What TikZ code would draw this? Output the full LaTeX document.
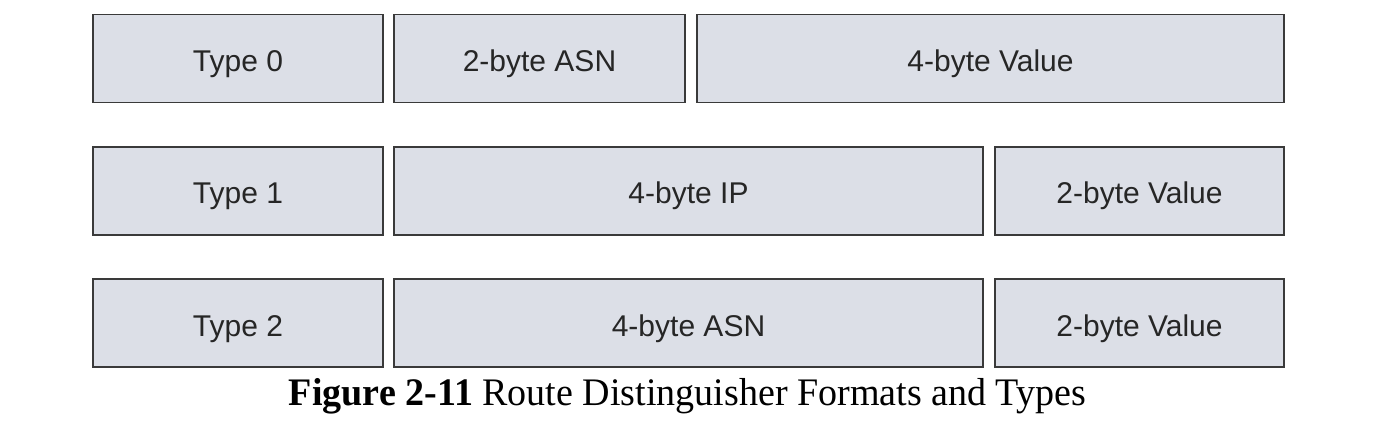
\documentclass[tikz,border=0pt]{standalone}
\usepackage{fontspec}
\setmainfont{Liberation Serif}
\newfontfamily\boxfont{Liberation Sans}
\definecolor{boxfill}{HTML}{DCDFE7}
\definecolor{boxline}{HTML}{3A3A3A}
\begin{document}
\begin{tikzpicture}[x=1pt,y=-1pt,
  field/.style={draw=boxline, fill=boxfill, line width=1.4pt, inner sep=0pt,
    minimum height=88pt, text height=26pt, text depth=0pt,
    font=\boxfont\fontsize{30}{34}\selectfont, text=black!85}]
\useasboundingbox (0,0) rectangle (1383,422);
% row 1
\node[field, minimum width=290pt] (t0) at (238,58.5) {Type 0};
\node[field, minimum width=291pt] (a0) at (539.5,58.5) {2-byte ASN};
\node[field, minimum width=587pt] (v0) at (990.5,58.5) {4-byte Value};
% row 2
\node[field, minimum width=290pt] (t1) at (238,191) {Type 1};
\node[field, minimum width=589pt] (a1) at (688.5,191) {4-byte IP};
\node[field, minimum width=289pt] (v1) at (1139.5,191) {2-byte Value};
% row 3
\node[field, minimum width=290pt] (t2) at (238,323) {Type 2};
\node[field, minimum width=589pt] (a2) at (688.5,323) {4-byte ASN};
\node[field, minimum width=289pt] (v2) at (1139.5,323) {2-byte Value};
% caption
\node[inner sep=0pt, anchor=base] (cap) at (687.5,405)
  {\scalebox{0.975}[1]{\fontsize{39}{44}\selectfont\textbf{Figure 2-11} Route Distinguisher Formats and Types}};
\end{tikzpicture}
\end{document}
